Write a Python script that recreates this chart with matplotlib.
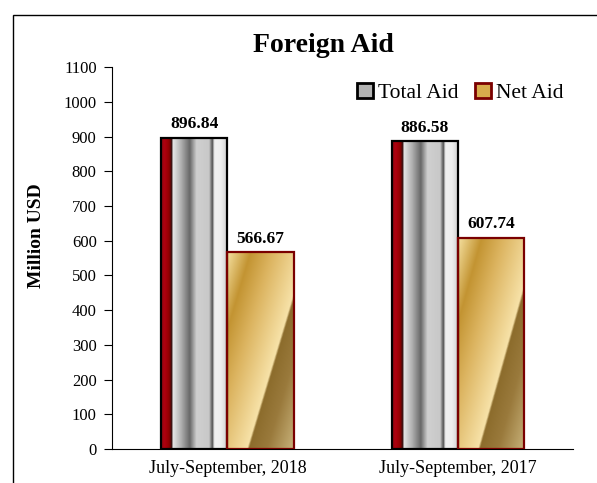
import numpy as np
import matplotlib.pyplot as plt
from matplotlib.colors import LinearSegmentedColormap
from matplotlib.patches import Patch, Rectangle

periods = ["July-September, 2018", "July-September, 2017"]
total_aid = [896.84, 886.58]
net_aid = [566.67, 607.74]
series_names = ["Total Aid", "Net Aid"]

plt.rcParams["font.family"] = ["Liberation Serif", "DejaVu Serif"]

# vertical silver stripes with a dark red strip on the left
silver = LinearSegmentedColormap.from_list("silver", [
    (0.00, "#8a0a10"), (0.05, "#b00010"), (0.12, "#900000"),
    (0.16, "#301010"), (0.175, "#e6e6e6"), (0.30, "#b0b0b0"),
    (0.43, "#686868"), (0.53, "#d0d0d0"), (0.72, "#c8c8c8"),
    (0.77, "#505050"), (0.80, "#f0f0f0"), (0.90, "#eeeeee"),
    (1.00, "#cfcfcf"),
])
# diagonal gold sheen
gold = LinearSegmentedColormap.from_list("gold", [
    (0.00, "#f5e0a0"), (0.186, "#c39432"), (0.36, "#dcb460"),
    (0.628, "#f7e2a8"), (0.644, "#8c6c2c"), (0.787, "#9a7a3c"),
    (1.00, "#c8b27a"),
])

fig = plt.figure(figsize=(5.97, 4.83), dpi=100)
ax = fig.add_axes([0.1876, 0.0704, 0.7729, 0.7906])

x = np.arange(len(periods))
w = 0.287
bars_total = ax.bar(x - w / 2, total_aid, w, facecolor="none",
                    edgecolor="black", linewidth=1.6, zorder=3)
bars_net = ax.bar(x + w / 2, net_aid, w, facecolor="none",
                  edgecolor="#7a0000", linewidth=1.6, zorder=3)

gx = np.linspace(0, 1, 300)
stripe = np.tile(gx, (2, 1))
X, Y = np.meshgrid(gx, gx)
diag = (X - 0.88 * Y + 0.88) / 1.88

for bar in bars_total:
    x0, y0 = bar.get_x(), bar.get_y()
    im = ax.imshow(stripe, cmap=silver, aspect="auto", origin="lower",
                   extent=[x0, x0 + bar.get_width(), y0, y0 + bar.get_height()],
                   zorder=2)
    im.set_clip_path(bar)
for bar in bars_net:
    x0, y0 = bar.get_x(), bar.get_y()
    im = ax.imshow(diag, cmap=gold, aspect="auto", origin="lower",
                   extent=[x0, x0 + bar.get_width(), y0, y0 + bar.get_height()],
                   zorder=2)
    im.set_clip_path(bar)

for bar, v in zip(list(bars_total) + list(bars_net), total_aid + net_aid):
    ax.text(bar.get_x() + bar.get_width() / 2, v + 16, f"{v:.2f}",
            ha="center", va="bottom", fontsize=12.5, fontweight="bold")

ax.set_xlim(-0.5, 1.5)
ax.set_ylim(0, 1100)
ax.set_yticks(range(0, 1101, 100))
ax.set_xticks(x)
ax.set_xticklabels(periods, fontsize=13)
ax.tick_params(axis="x", length=0, pad=8)
ax.tick_params(axis="y", length=6, labelsize=12, pad=5)
for s in ["top", "right"]:
    ax.spines[s].set_visible(False)
ax.set_ylabel("Million USD", fontsize=14, fontweight="bold")
ax.yaxis.set_label_coords(-0.145, 0.56)

fig.text(0.541, 0.905, "Foreign Aid", ha="center", va="center",
         fontsize=20, fontweight="bold")

handles = [Patch(facecolor="#b4b4b4", edgecolor="black", linewidth=2),
           Patch(facecolor="#d8ac4c", edgecolor="#7a0000", linewidth=2)]
ax.legend(handles, series_names, loc="upper right", bbox_to_anchor=(1.02, 1.01),
          ncol=2, frameon=False, fontsize=15.5, handlelength=0.75,
          handleheight=0.75, handletextpad=0.2, columnspacing=0.8)

fig.add_artist(Rectangle((13 / 597, -0.1), 1.1, 1 - 15 / 483 + 0.1,
                         transform=fig.transFigure, fill=False,
                         edgecolor="black", linewidth=1, clip_on=False))

fig.savefig("out.png", dpi=100)
